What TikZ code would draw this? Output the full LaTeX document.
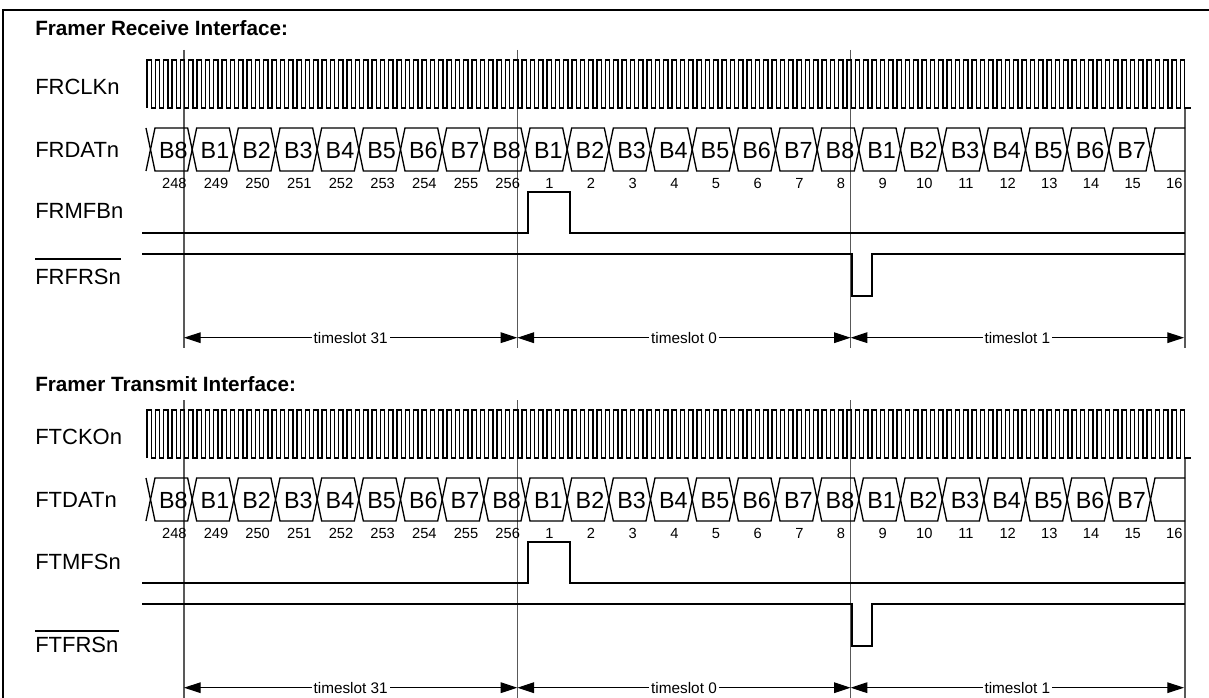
\documentclass[tikz,border=0pt]{standalone}
\usepackage{fontspec}
\setmainfont{Liberation Sans}
\usetikzlibrary{arrows.meta}
\tikzset{wave/.style={line width=1pt},guide/.style={line width=0.85pt,black!65},
  signame/.style={anchor=west,inner sep=0pt,font=\fontsize{16.5}{18}\selectfont},
  paneltitle/.style={anchor=west,inner sep=0pt,font=\bfseries\fontsize{15.5}{18}\selectfont},
  bitname/.style={anchor=base,inner sep=0pt,font=\fontsize{17.5}{19}\selectfont},
  bitnum/.style={anchor=base,inner sep=0pt,font=\fontsize{11}{13}\selectfont},
  slotspan/.style={line width=0.8pt,{Triangle[length=12.5pt,width=8pt]}-{Triangle[length=12.5pt,width=8pt]}},
  slotname/.style={fill=white,inner sep=1.5pt,font=\fontsize{11.5}{13}\selectfont}}

\begin{document}
\begin{tikzpicture}[x=0.75pt,y=-0.75pt]
\useasboundingbox (0,0) rectangle (1209,698);
% draw frame
\draw[line width=1.5pt] (3,702) -- (3,10) -- (1212,10);
\def\cz{150.5};
\def\cw{41.667};
\def\hw{4.5};
\foreach \yo/\ttl/\ty/\clk/\dat/\mf/\my/\frs/\fy/\oy in {0/Framer Receive Interface:/28/FRCLKn/FRDATn/FRMFBn/211/FRFRSn/277/259,350/Framer Transmit Interface:/384/FTCKOn/FTDATn/FTMFSn/562/FTFRSn/645/631}{
% draw names
\node[paneltitle] (title\yo) at (35,\ty) {\ttl};
\node[signame] (clk\yo) at (35,87+\yo) {\clk};
\node[signame] (dat\yo) at (35,150+\yo) {\dat};
\node[signame] (mf\yo) at (35,\my) {\mf};
\node[signame] (frs\yo) at (35,\fy) {\frs};
\coordinate (ov\yo) at (0,\oy);
\draw[wave] (frs\yo.west |- ov\yo) -- (frs\yo.east |- ov\yo);
\begin{scope}[shift={(0,\yo)}]
% draw guides
\foreach \j in {0,1,2} \draw[guide] (184+\j*333.33,50) -- (184+\j*333.33,348);
\draw[guide] (1185,108) -- (1185,348);
\foreach \j in {0,...,3} \coordinate (g\yo-\j) at (184+\j*333.33,337.7);
% draw clock
\draw[wave] (147,108) \foreach \i in {1,...,125} { -- ++(0,-48) -- ++(4.1667,0) -- ++(0,48) -- ++(4.1667,0) } -- ++(2.5,0);
% draw data lane
\draw[wave] (\cz-\hw,128) -- (\cz,149.5) -- (\cz-\hw,171);
\foreach \k in {0,...,23} {
  \pgfmathsetmacro\xa{\cz+\k*\cw}
  \pgfmathsetmacro\xb{\xa+\cw}
  \pgfmathtruncatemacro\bn{\k==0 ? 8 : mod(\k-1,8)+1}
  \draw[wave] (\xa,149.5) -- (\xa+\hw,128) -- (\xb-\hw,128) -- (\xb,149.5) -- (\xb-\hw,171) -- (\xa+\hw,171) -- cycle;
  \node[bitname] (bit\yo-\k) at (\xa+\cw/2+2,158.3) {B\bn};
}
\draw[wave] (1185,128) -- (\cz+24*\cw+\hw,128) -- (\cz+24*\cw,149.5) -- (\cz+24*\cw+\hw,171) -- (1185,171);
\foreach \k in {0,...,24} {
  \pgfmathtruncatemacro\nn{\k<9 ? 248+\k : \k-8}
  \node[bitnum] (num\yo-\k) at (\cz+\k*\cw+\cw/2+3,188.2) {\nn};
}
% draw multiframe and frame sync
\draw[wave] (142,233) -- (528,233) -- (528,192) -- (570,192) -- (570,233) -- (1185,233);
\draw[wave] (142,254) -- (852,254) -- (852,296) -- (872,296) -- (872,254) -- (1185,254);
\end{scope}
% draw timeslots
\foreach \j/\ts in {0/31,1/0,2/1} {
  \pgfmathtruncatemacro\jn{\j+1}
  \draw[slotspan] (g\yo-\j) -- node[slotname] (slot\yo-\j) {timeslot \ts} (g\yo-\jn);
}
}
\end{tikzpicture}
\end{document}
